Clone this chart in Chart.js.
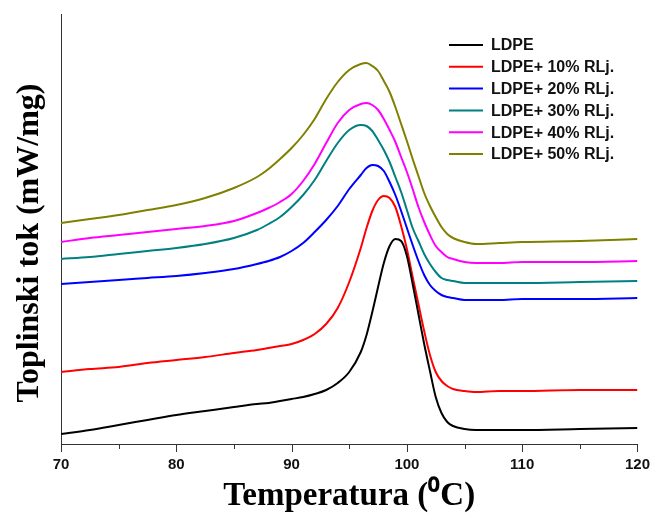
<html>
<head>
<title>DSC krivulje</title>
<script src="https://cdn.jsdelivr.net/npm/chart.js"></script>
<style>
  html, body { margin: 0; padding: 0; background: #fff; overflow: hidden; }
  #wrap { width: 650px; height: 513px; }
  canvas { display: block; }
</style>
</head>
<body>
<div id="wrap"><canvas id="dsc"></canvas></div>
<script>
// temperatures (°C) shared by all curves
var temps = [70, 72.5, 75, 77.5, 80, 82.5, 85, 87, 88, 89, 90, 91, 92, 93, 94, 95, 96, 96.5, 97, 97.5,
             98, 98.5, 99, 99.5, 100, 100.5, 101, 101.5, 102, 102.5, 103, 103.5, 104, 105, 106, 108, 110, 115, 120];

// heat flow, arbitrary offset units
var ldpe   = [0.10, 0.14, 0.19, 0.24, 0.29, 0.33, 0.37, 0.40, 0.41, 0.43, 0.45, 0.47, 0.50, 0.54, 0.61, 0.72, 0.92, 1.09, 1.32, 1.57,
              1.81, 1.98, 2.05, 2.03, 1.88, 1.60, 1.30, 1.00, 0.73, 0.47, 0.31, 0.22, 0.18, 0.15, 0.14, 0.14, 0.14, 0.15, 0.16];
var rlj10  = [0.72, 0.75, 0.77, 0.81, 0.84, 0.87, 0.91, 0.94, 0.96, 0.98, 1.00, 1.04, 1.10, 1.20, 1.36, 1.62, 1.96, 2.16, 2.33, 2.44,
              2.48, 2.46, 2.37, 2.18, 1.95, 1.67, 1.40, 1.13, 0.89, 0.72, 0.63, 0.58, 0.55, 0.53, 0.52, 0.53, 0.53, 0.54, 0.54];
var rlj20  = [1.60, 1.62, 1.64, 1.66, 1.68, 1.71, 1.75, 1.80, 1.83, 1.87, 1.93, 2.01, 2.12, 2.24, 2.38, 2.55, 2.69, 2.76, 2.79, 2.78,
              2.73, 2.62, 2.49, 2.33, 2.16, 1.99, 1.83, 1.69, 1.59, 1.53, 1.49, 1.47, 1.46, 1.44, 1.44, 1.44, 1.45, 1.45, 1.46];
var rlj30  = [1.85, 1.87, 1.90, 1.93, 1.96, 2.00, 2.06, 2.14, 2.20, 2.27, 2.37, 2.49, 2.64, 2.83, 3.01, 3.14, 3.19, 3.18, 3.13, 3.04,
              2.94, 2.82, 2.67, 2.52, 2.34, 2.16, 2.03, 1.90, 1.80, 1.72, 1.66, 1.64, 1.63, 1.61, 1.61, 1.61, 1.61, 1.62, 1.63];
var rlj40  = [2.02, 2.06, 2.09, 2.12, 2.15, 2.18, 2.23, 2.31, 2.36, 2.42, 2.50, 2.63, 2.80, 3.01, 3.21, 3.34, 3.40, 3.41, 3.39, 3.34,
              3.25, 3.14, 3.02, 2.87, 2.72, 2.55, 2.37, 2.22, 2.09, 1.98, 1.92, 1.87, 1.85, 1.82, 1.81, 1.81, 1.82, 1.82, 1.83];
var rlj50  = [2.21, 2.25, 2.29, 2.34, 2.39, 2.46, 2.56, 2.67, 2.75, 2.85, 2.96, 3.09, 3.25, 3.45, 3.62, 3.74, 3.80, 3.81, 3.78, 3.73,
              3.63, 3.52, 3.37, 3.20, 3.03, 2.85, 2.68, 2.51, 2.38, 2.27, 2.17, 2.10, 2.06, 2.02, 2.00, 2.01, 2.02, 2.03, 2.05];

var names  = ['LDPE', 'LDPE+ 10% RLj.', 'LDPE+ 20% RLj.', 'LDPE+ 30% RLj.', 'LDPE+ 40% RLj.', 'LDPE+ 50% RLj.'];
var series = [ldpe, rlj10, rlj20, rlj30, rlj40, rlj50];
var colors = ['#000000', '#ff0000', '#0000ff', '#008080', '#ff00ff', '#808000'];
var yTitle = 'Toplinski tok (mW/mg)';

function toPoints(vals) {
  return vals.map(function (v, i) { return { x: temps[i], y: v }; });
}

var datasets = series.map(function (s, i) {
  return {
    label: names[i],
    data: toPoints(s),
    borderColor: colors[i],
    borderWidth: 2,
    pointRadius: 0,
    fill: false,
    cubicInterpolationMode: 'monotone'
  };
});

// outward ticks: long at every 10 degrees, short in between
var axisTicks = {
  id: 'axisTicks',
  afterDraw: function (chart) {
    var ctx = chart.ctx, xs = chart.scales.x, bottom = chart.chartArea.bottom;
    ctx.save();
    ctx.strokeStyle = '#333';
    ctx.lineWidth = 1;
    xs.ticks.forEach(function (t) {
      var px = Math.round(xs.getPixelForValue(t.value)) + 0.5;
      var len = t.value % 10 === 0 ? 8 : 5;
      ctx.beginPath();
      ctx.moveTo(px, bottom);
      ctx.lineTo(px, bottom + len);
      ctx.stroke();
    });
    ctx.restore();
  }
};

// rotated y title, sits a bit lower than the axis middle
var sideTitle = {
  id: 'sideTitle',
  afterDraw: function (chart) {
    var ctx = chart.ctx;
    ctx.save();
    ctx.translate(30, 243);
    ctx.rotate(-Math.PI / 2);
    ctx.font = 'bold 32px "Liberation Serif", "Times New Roman", serif';
    ctx.textAlign = 'center';
    ctx.textBaseline = 'middle';
    ctx.fillStyle = '#000';
    ctx.fillText(yTitle, 0, 0);
    ctx.restore();
  }
};

// legend box in the upper right corner
var cornerLegend = {
  id: 'cornerLegend',
  afterDraw: function (chart) {
    var ctx = chart.ctx;
    ctx.save();
    ctx.font = 'bold 16px "Liberation Sans", Arial, sans-serif';
    ctx.textBaseline = 'middle';
    chart.data.datasets.forEach(function (ds, i) {
      var y = 45 + i * 21.8;
      ctx.strokeStyle = ds.borderColor;
      ctx.lineWidth = 2;
      ctx.beginPath();
      ctx.moveTo(449, y);
      ctx.lineTo(483, y);
      ctx.stroke();
      ctx.fillStyle = '#111';
      ctx.fillText(ds.label, 491, y + 1);
    });
    ctx.restore();
  }
};

new Chart(document.getElementById('dsc'), {
  type: 'line',
  data: { datasets: datasets },
  plugins: [axisTicks, sideTitle, cornerLegend],
  options: {
    responsive: true,
    maintainAspectRatio: false,
    animation: false,
    layout: { padding: { left: 61, top: 14, right: 0, bottom: 0 } },
    plugins: { legend: { display: false }, tooltip: { enabled: false } },
    scales: {
      x: {
        type: 'linear',
        min: 70,
        max: 120,
        grid: { display: true, drawOnChartArea: false, drawTicks: true, tickLength: 12, color: 'rgba(0,0,0,0)' },
        border: { display: true, color: '#333', width: 1 },
        ticks: {
          stepSize: 5,
          autoSkip: false,
          maxRotation: 0,
          padding: 0,
          color: '#111',
          font: { family: '"Liberation Sans", Arial, sans-serif', size: 15, weight: 'bold', lineHeight: 1.2 },
          callback: function (v) { return v % 10 === 0 ? v : ''; }
        },
        title: {
          display: true,
          text: 'Temperatura (\u2070C)',
          color: '#000',
          padding: { top: 6, bottom: 0 },
          font: { family: '"Liberation Serif", "Times New Roman", serif', size: 33, weight: 'bold', lineHeight: 1.0 }
        }
      },
      y: {
        min: 0,
        max: 4.3,
        grid: { display: false, drawTicks: false },
        border: { display: true, color: '#333', width: 1 },
        ticks: { display: false },
        title: { display: false }
      }
    }
  }
});
</script>
</body>
</html>
